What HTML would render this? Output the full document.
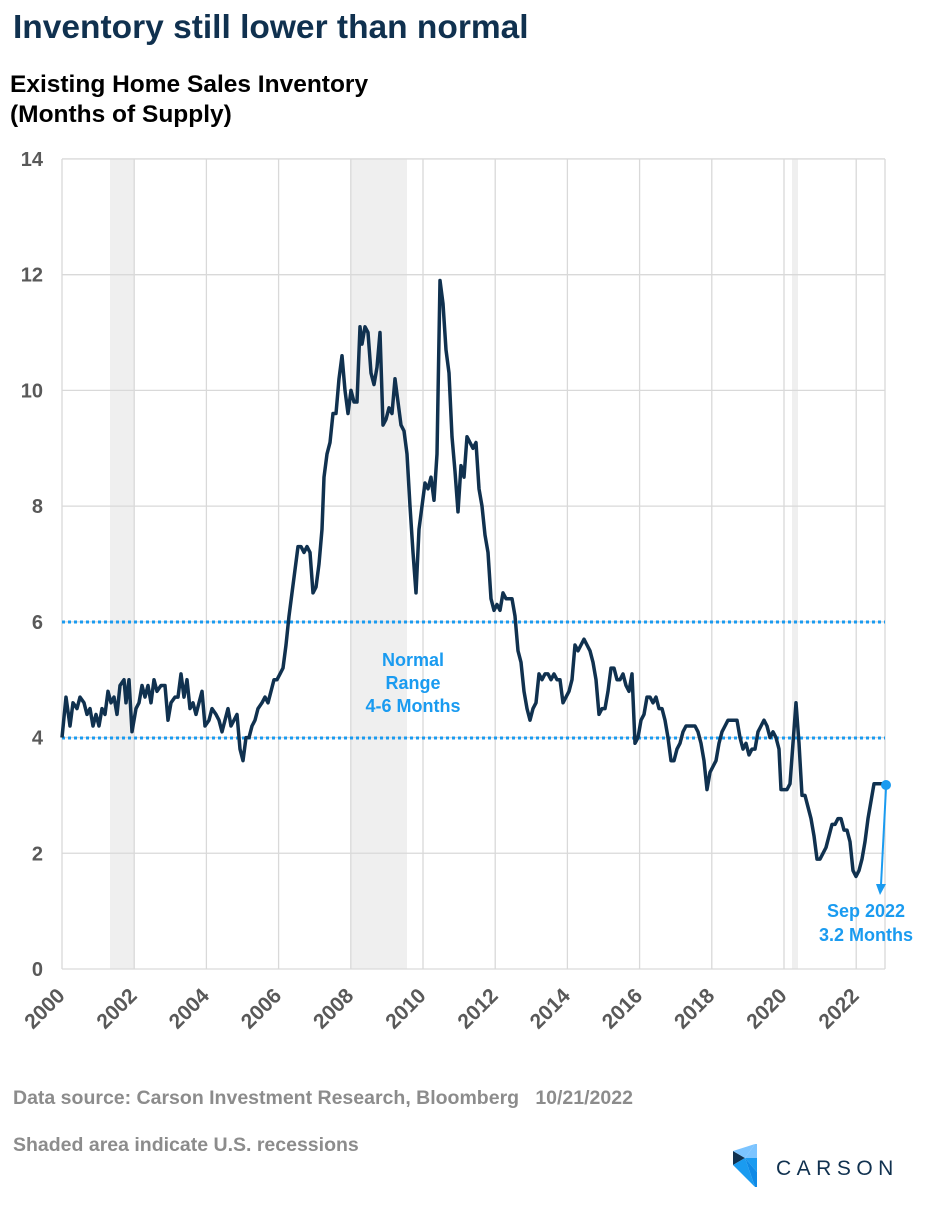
<!DOCTYPE html><html><head><meta charset="utf-8"><style>
body{margin:0;width:950px;height:1210px;background:#fff;font-family:"Liberation Sans",Arial,sans-serif;overflow:hidden}
</style></head><body>
<svg width="950" height="1210" xmlns="http://www.w3.org/2000/svg" font-family="Liberation Sans, Arial, sans-serif">
<text x="13" y="38" font-size="33.5" font-weight="bold" fill="#10314f">Inventory still lower than normal</text>
<text x="10" y="92" font-size="24.5" font-weight="bold" fill="#000">Existing Home Sales Inventory</text>
<text x="10" y="122" font-size="24.5" font-weight="bold" fill="#000">(Months of Supply)</text>
<g fill="#efefef"><rect x="110" y="159" width="24" height="810"/><rect x="351" y="159" width="56" height="810"/><rect x="792" y="159" width="6" height="810"/></g>
<g id="grid" stroke="#d9d9d9" stroke-width="1.3"></g>
<g id="yl" font-size="20" font-weight="bold" fill="#595959" text-anchor="end"></g>
<g id="xl" font-size="21" font-weight="bold" fill="#595959" text-anchor="end"></g>
<line x1="62" y1="622" x2="885" y2="622" stroke="#1a9bf0" stroke-width="3" stroke-dasharray="3,3"/>
<line x1="62" y1="738" x2="885" y2="738" stroke="#1a9bf0" stroke-width="3" stroke-dasharray="3,3"/>
<g font-size="18" font-weight="bold" fill="#1a9bf0" text-anchor="middle">
<text x="413" y="666">Normal</text><text x="413" y="689">Range</text><text x="413" y="712">4-6 Months</text>
<text x="866" y="917">Sep 2022</text><text x="866" y="941">3.2 Months</text></g>
<path id="ln" fill="none" stroke="#10314f" stroke-width="3.5" stroke-linejoin="round"/>
<line x1="886" y1="788" x2="881" y2="885" stroke="#1a9bf0" stroke-width="2"/>
<polygon points="876,884 886,884 880,895" fill="#1a9bf0"/>
<circle cx="886" cy="785" r="5" fill="#1a9bf0"/>
<text x="13" y="1104" font-size="19.5" font-weight="bold" fill="#8c8c8c" xml:space="preserve" style="white-space:pre">Data source: Carson Investment Research, Bloomberg   10/21/2022</text>
<text x="13" y="1151" font-size="19.5" font-weight="bold" fill="#8c8c8c">Shaded area indicate U.S. recessions</text>
<polygon points="755,1144 757,1144 757,1158 745,1158" fill="#7cc4ff"/>
<polygon points="745,1158 757,1158 757,1172" fill="#1a9bf0"/>
<polygon points="745,1158 757,1172 757,1187 755,1187" fill="#0f8ae6"/>
<polygon points="733,1151 745,1158 733,1165" fill="#10314f"/>
<polygon points="733,1151 755,1144 745,1158" fill="#7cc4ff"/>
<polygon points="733,1165 745,1158 755,1187" fill="#1a9bf0"/>
<text x="776" y="1175" font-size="21" fill="#10314f" letter-spacing="5.5">CARSON</text>
</svg>
<script>
var ns="http://www.w3.org/2000/svg";
function el(p,t,a,tx){var e=document.createElementNS(ns,t);for(var k in a)e.setAttribute(k,a[k]);if(tx!==undefined)e.textContent=String(tx);document.getElementById(p).appendChild(e);}
function Y(v){return 969-v*57.86;}
for(var v=0;v<=14;v+=2){el('grid','line',{x1:62,x2:885,y1:Y(v),y2:Y(v)});el('yl','text',{x:43,y:Y(v)+7},v);}
for(var i=0;i<=11;i++){var x=62+i*72.2;el('grid','line',{x1:x,x2:x,y1:159,y2:969});var yr=2000+2*i;el('xl','text',{x:x+4,y:997,transform:'rotate(-45 '+(x+4)+' 997)'},yr);}
el('grid','line',{x1:885,x2:885,y1:159,y2:969});
var d=[62,4.0,66,4.7,70,4.2,73,4.6,77,4.5,80,4.7,84,4.6,87,4.4,90,4.5,93,4.2,96,4.4,99,4.2,102,4.5,105,4.4,108,4.8,111,4.6,114,4.7,117,4.4,120,4.9,124,5.0,126,4.6,129,5.0,132,4.1,136,4.5,139,4.6,142,4.9,145,4.7,148,4.9,151,4.6,154,5.0,157,4.8,161,4.9,165,4.9,168,4.3,171,4.6,175,4.7,178,4.7,181,5.1,184,4.7,187,5.0,190,4.5,193,4.6,196,4.4,199,4.6,202,4.8,205,4.2,209,4.3,212,4.5,216,4.4,219,4.3,222,4.1,225,4.3,228,4.5,231,4.2,234,4.3,237,4.4,240,3.8,243,3.6,246,4.0,249,4.0,252,4.2,255,4.3,258,4.5,262,4.6,265,4.7,268,4.6,271,4.8,274,5.0,277,5.0,280,5.1,283,5.2,286,5.6,289,6.1,292,6.5,295,6.9,298,7.3,301,7.3,304,7.2,307,7.3,310,7.2,313,6.5,316,6.6,319,7.0,322,7.6,324,8.5,327,8.9,330,9.1,333,9.6,336,9.6,339,10.2,342,10.6,345,10.0,348,9.6,351,10.0,354,9.8,357,9.8,360,11.1,362,10.8,365,11.1,368,11.0,371,10.3,374,10.1,377,10.4,380,11.0,383,9.4,386,9.5,389,9.7,392,9.6,395,10.2,398,9.8,401,9.4,404,9.3,407,8.9,410,8.0,413,7.2,416,6.5,419,7.6,422,8.0,425,8.4,428,8.3,431,8.5,434,8.1,437,8.9,440,11.9,443,11.5,446,10.7,449,10.3,452,9.2,455,8.6,458,7.9,461,8.7,464,8.5,467,9.2,470,9.1,473,9.0,476,9.1,479,8.3,482,8.0,485,7.5,488,7.2,491,6.4,494,6.2,497,6.3,500,6.2,503,6.5,506,6.4,509,6.4,512,6.4,515,6.1,518,5.5,521,5.3,524,4.8,527,4.5,530,4.3,533,4.5,536,4.6,539,5.1,542,5.0,545,5.1,548,5.1,551,5.0,554,5.1,557,5.0,560,5.0,563,4.6,566,4.7,569,4.8,572,5.0,575,5.6,578,5.5,581,5.6,584,5.7,587,5.6,590,5.5,593,5.3,596,5.0,599,4.4,602,4.5,605,4.5,608,4.8,611,5.2,614,5.2,617,5.0,620,5.0,623,5.1,626,4.9,629,4.8,632,5.1,635,3.9,638,4.0,641,4.3,644,4.4,647,4.7,650,4.7,653,4.6,656,4.7,659,4.5,662,4.5,665,4.3,668,4.0,671,3.6,674,3.6,677,3.8,680,3.9,683,4.1,686,4.2,689,4.2,692,4.2,695,4.2,698,4.1,701,3.9,704,3.6,707,3.1,710,3.4,713,3.5,716,3.6,719,3.9,722,4.1,725,4.2,728,4.3,731,4.3,734,4.3,737,4.3,740,4.0,743,3.8,746,3.9,749,3.7,752,3.8,755,3.8,758,4.1,761,4.2,764,4.3,767,4.2,770,4.0,773,4.1,776,4.0,779,3.8,781,3.1,784,3.1,787,3.1,790,3.2,793,3.9,796,4.6,799,3.9,802,3.0,805,3.0,808,2.8,811,2.6,814,2.3,817,1.9,820,1.9,823,2.0,826,2.1,829,2.3,832,2.5,835,2.5,838,2.6,841,2.6,844,2.4,847,2.4,850,2.2,853,1.7,856,1.6,859,1.7,862,1.9,865,2.2,868,2.6,871,2.9,874,3.2,877,3.2,880,3.2,883,3.2,885,3.2];
var s="";for(var i=0;i<d.length;i+=2)s+=(i?"L":"M")+d[i]+","+Y(d[i+1]).toFixed(1);
document.getElementById('ln').setAttribute('d',s);
</script>
</body></html>
